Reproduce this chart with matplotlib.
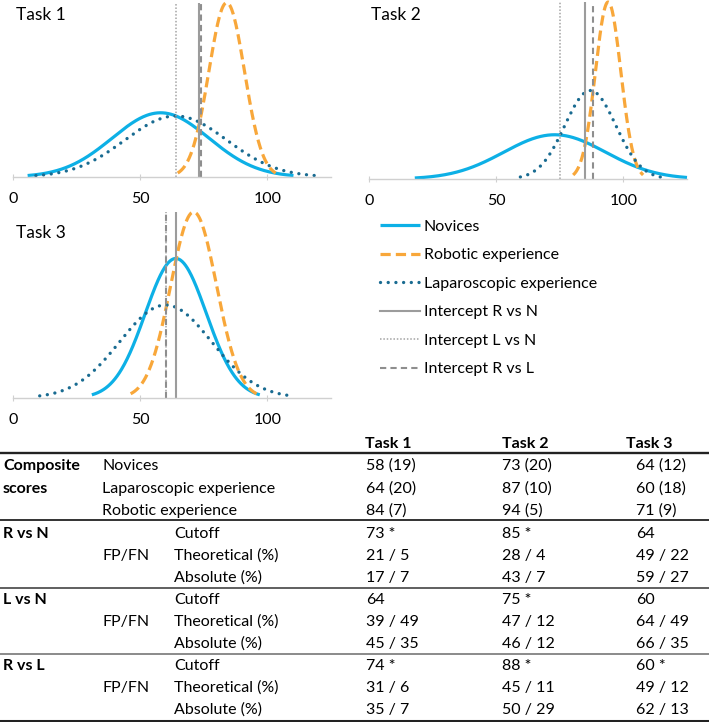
import numpy as np
import matplotlib
matplotlib.use("Agg")
import matplotlib.pyplot as plt
from matplotlib.lines import Line2D

plt.rcParams['font.family'] = ['Lato', 'DejaVu Sans']

# group means / standard deviations
tasks = ["Task 1", "Task 2", "Task 3"]
novice_mean = [58, 73, 64]
novice_sd = [19, 20, 12]
lap_mean = [64, 87, 60]
lap_sd = [20, 10, 18]
rob_mean = [84, 94, 71]
rob_sd = [7, 5, 9]

# intercept cutoffs
cut_rn = [73, 85, 64]
cut_ln = [64, 75, 60]
cut_rl = [74, 88, 60]
sig_rn = [True, True, False]
sig_ln = [False, True, False]
sig_rl = [True, True, True]

# FP/FN percentages
theo_rn = ["21 / 5", "28 / 4", "49 / 22"]
abs_rn = ["17 / 7", "43 / 7", "59 / 27"]
theo_ln = ["39 / 49", "47 / 12", "64 / 49"]
abs_ln = ["45 / 35", "46 / 12", "66 / 35"]
theo_rl = ["31 / 6", "45 / 11", "49 / 12"]
abs_rl = ["35 / 7", "50 / 29", "62 / 13"]

W, H = 709, 722
fig = plt.figure(figsize=(W / 100, H / 100), dpi=100)

C_NOV = "#0DB0E6"
C_ROB = "#F8A73A"
C_LAP = "#196B91"
C_GREY = "#A3A3A3"
FS = 11.5


def px_axes(l, t, r, b):
    return fig.add_axes([l / W, 1 - b / H, (r - l) / W, (b - t) / H])


def pdf(x, m, s):
    return np.exp(-0.5 * ((x - m) / s) ** 2) / (s * np.sqrt(2 * np.pi))


def curve(ax, m, s, **kw):
    x = np.linspace(max(m - 2.75 * s, 0), min(m + 2.75 * s, 125), 300)
    return ax.plot(x, pdf(x, m, s), clip_on=False, **kw)[0]


boxes = [(13, 2.7, 331, 177), (369, 2, 687, 179), (13, 212, 331, 398)]
title_pos = [(16, 15), (371, 15), (16, 233)]

for i, box in enumerate(boxes):
    ax = px_axes(*box)
    nov = curve(ax, novice_mean[i], novice_sd[i], color=C_NOV, lw=2.3, solid_capstyle='butt')
    rob = curve(ax, rob_mean[i], rob_sd[i], color=C_ROB, lw=2.3, ls=(0, (3.2, 1.6)))
    lap = curve(ax, lap_mean[i], lap_sd[i], color=C_LAP, lw=2.4, ls=(0, (0.01, 2.3)),
                dash_capstyle='round')
    top = pdf(rob_mean[i], rob_mean[i], rob_sd[i])
    rn = ax.plot([cut_rn[i]] * 2, [0, top], color="#9C9C9C", lw=1.5)[0]
    ln = ax.plot([cut_ln[i]] * 2, [0, top], color=C_GREY, lw=1.1, ls=(0, (1, 1.2)))[0]
    rl = ax.plot([cut_rl[i]] * 2, [0, top], color="#8E8E8E", lw=1.5, ls=(0, (3, 2)))[0]
    ax.set_xlim(0, 125)
    ax.set_ylim(0, top)
    for sp in ["left", "right", "top"]:
        ax.spines[sp].set_visible(False)
    ax.spines["bottom"].set_color("#D0D0D0")
    ax.spines["bottom"].set_linewidth(1.0)
    ax.set_yticks([])
    ax.set_xticks([0, 50, 100])
    ax.tick_params(axis='x', direction='inout', length=5, color="#D0D0D0",
                   labelsize=FS, pad=8)
    fig.text(title_pos[i][0] / W, 1 - title_pos[i][1] / H, tasks[i],
             fontsize=12.5, va='center', ha='left')

handles = [nov, rob, lap, rn, ln, rl]
labels = ["Novices", "Robotic experience", "Laparoscopic experience",
          "Intercept R vs N", "Intercept L vs N", "Intercept R vs L"]
fig.legend(handles, labels, loc='upper left', bbox_to_anchor=(380 / W, 1 - 219.5 / H),
           frameon=False, fontsize=FS, handlelength=2.5, handletextpad=0.25,
           labelspacing=0.9, borderpad=0, borderaxespad=0)


# table
def txt(x, y, s, bold=False):
    fig.text(x / W, 1 - y / H, s, fontsize=FS, va='center', ha='left',
             fontweight='bold' if bold else 'normal')


def rule(y, lw, color="#222222"):
    fig.add_artist(Line2D([0, 1], [1 - y / H] * 2, transform=fig.transFigure,
                          color=color, lw=lw))


col_x = [366, 502, 636]
head_x = [365, 502, 626]
for j in range(3):
    txt(head_x[j], 444, tasks[j], bold=True)
rule(453, 1.7)

txt(3, 466, "Composite", bold=True)
txt(3, 489, "scores", bold=True)
groups = ["Novices", "Laparoscopic experience", "Robotic experience"]
gm = [novice_mean, lap_mean, rob_mean]
gs = [novice_sd, lap_sd, rob_sd]
for k, y in enumerate([466, 489, 511]):
    txt(102, y, groups[k])
    for j in range(3):
        txt(col_x[j], y, f"{gm[k][j]} ({gs[k][j]})")
rule(520, 1.3)

blocks = [("R vs N", cut_rn, sig_rn, theo_rn, abs_rn, 534),
          ("L vs N", cut_ln, sig_ln, theo_ln, abs_ln, 600),
          ("R vs L", cut_rl, sig_rl, theo_rl, abs_rl, 666)]
for name, cut, sig, theo, absl, y0 in blocks:
    txt(3, y0, name, bold=True)
    txt(174, y0, "Cutoff")
    txt(102, y0 + 22, "FP/FN")
    txt(174, y0 + 22, "Theoretical (%)")
    txt(174, y0 + 44, "Absolute (%)")
    for j in range(3):
        txt(col_x[j], y0, f"{cut[j]} *" if sig[j] else f"{cut[j]}")
        txt(col_x[j], y0 + 22, theo[j])
        txt(col_x[j], y0 + 44, absl[j])
rule(588, 1.2, "#444444")
rule(654, 1.2, "#777777")
rule(720.5, 2.2)

fig.savefig("out.png", dpi=100)
